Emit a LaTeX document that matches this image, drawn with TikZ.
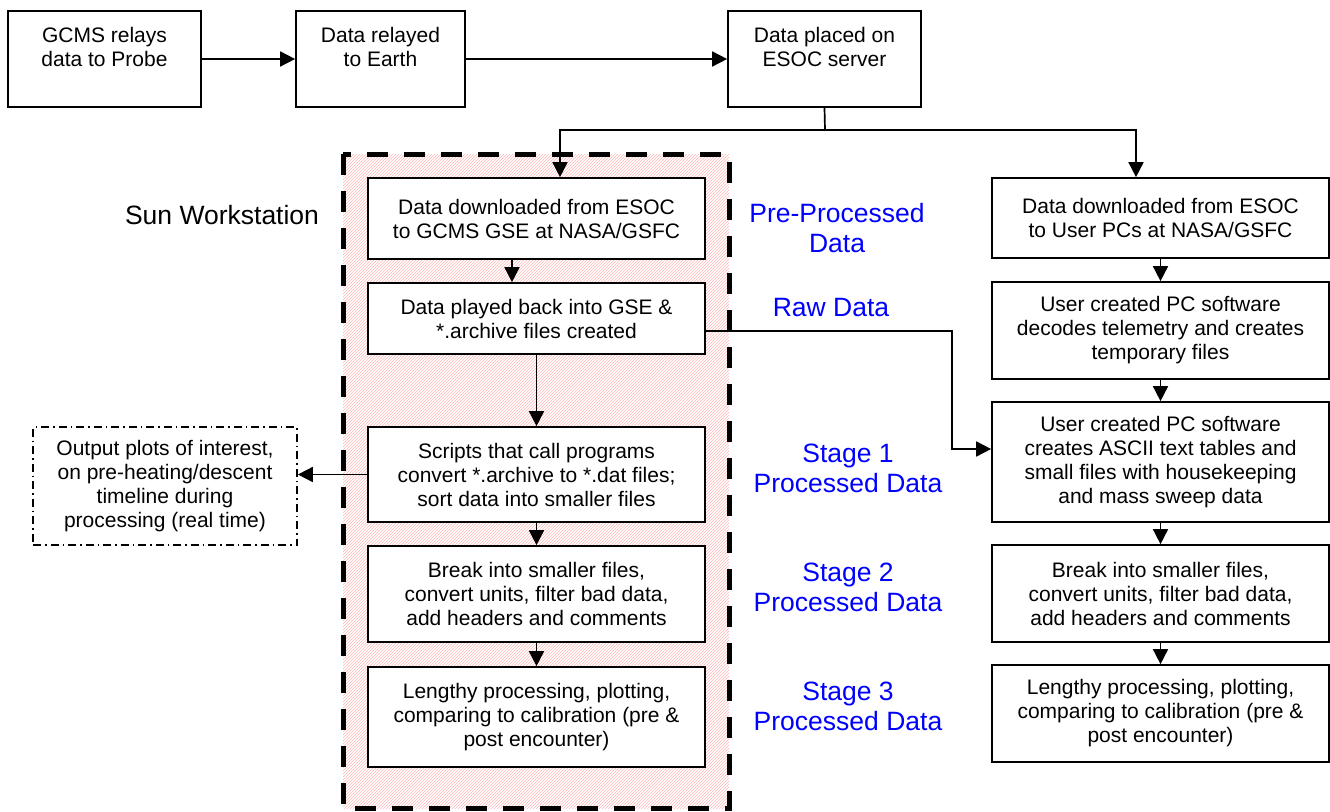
\documentclass[tikz,border=0pt]{standalone}
\usepackage{fontspec}
\setmainfont{Liberation Sans}
\usetikzlibrary{arrows.meta,patterns}

\begin{document}
\begin{tikzpicture}[x=1pt,y=-1pt,>={Triangle[length=15pt,width=15pt]},line join=miter,
  flowbox/.style={draw,line width=1.7pt,fill=white,align=center,inner sep=0pt,font=\fontsize{21}{24}\selectfont},
  plotbox/.style={flowbox,dash pattern=on 8pt off 4pt on 1.5pt off 4pt},
  stagelabel/.style={text=blue,align=center,font=\fontsize{26.5}{30}\selectfont},
  link/.style={->,line width=1.7pt}]
\useasboundingbox (0,0) rectangle (1330,811);
% Sun workstation region
\path[pattern=north east lines,pattern color=red!28] (343,154) rectangle (729,808);
\draw[line width=5pt,dash pattern=on 21pt off 16pt] (343,154) rectangle (729,808);
\node[font=\fontsize{26.5}{30}\selectfont] (sunws) at (222,215) {Sun Workstation};
% top row
\node[flowbox,minimum width=193pt,minimum height=96pt] (probe) at (104.5,59) {GCMS relays\\data to Probe\\\mbox{}};
\node[flowbox,minimum width=169pt,minimum height=96pt] (earth) at (380.5,59) {Data relayed\\to Earth\\\mbox{}};
\node[flowbox,minimum width=193pt,minimum height=96pt] (esoc) at (824.5,59) {Data placed on\\ESOC server\\\mbox{}};
% left column
\node[flowbox,minimum width=337pt,minimum height=81pt] (gse) at (536.5,218.5) {Data downloaded from ESOC\\to GCMS GSE at NASA/GSFC};
\node[flowbox,minimum width=337pt,minimum height=71pt] (playback) at (536.5,318.5) {Data played back into GSE \&\\*.archive files created};
\node[flowbox,minimum width=337pt,minimum height=95pt] (scripts) at (536.5,474.5) {Scripts that call programs\\convert *.archive to *.dat files;\\sort data into smaller files};
\node[flowbox,minimum width=337pt,minimum height=96pt] (gsebreak) at (536.5,594) {Break into smaller files,\\convert units, filter bad data,\\add headers and comments};
\node[flowbox,minimum width=337pt,minimum height=100pt] (gselong) at (536.5,717) {Lengthy processing, plotting,\\comparing to calibration (pre \&\\post encounter)};
\node[plotbox,minimum width=264pt,minimum height=118pt] (plots) at (165,486) {Output plots of interest,\\on pre-heating/descent\\timeline during\\processing (real time)};
% right column
\node[flowbox,minimum width=337pt,minimum height=80pt] (pcdl) at (1160.5,218) {Data downloaded from ESOC\\to User PCs at NASA/GSFC};
\node[flowbox,minimum width=337pt,minimum height=97pt] (pcdecode) at (1160.5,330.5) {User created PC software\\decodes telemetry and creates\\temporary files};
\node[flowbox,minimum width=337pt,minimum height=120pt] (pcascii) at (1160.5,462) {User created PC software\\creates ASCII text tables and\\small files with housekeeping\\and mass sweep data};
\node[flowbox,minimum width=337pt,minimum height=97pt] (pcbreak) at (1160.5,593.5) {Break into smaller files,\\convert units, filter bad data,\\add headers and comments};
\node[flowbox,minimum width=337pt,minimum height=97pt] (pclong) at (1160.5,713.5) {Lengthy processing, plotting,\\comparing to calibration (pre \&\\post encounter)};
% data stage labels
\node[stagelabel] (preproc) at (837,228) {Pre-Processed\\Data};
\node[stagelabel] (rawlbl) at (831,308) {Raw Data};
\node[stagelabel] (stage1) at (848,468) {Stage 1\\Processed Data};
\node[stagelabel] (stage2) at (848,587) {Stage 2\\Processed Data};
\node[stagelabel] (stage3) at (848,706) {Stage 3\\Processed Data};
% connectors
\coordinate (split) at (825,130);
\coordinate (rawturn) at (952,0);
\draw[link] (probe) -- (earth);
\draw[link] (earth) -- (esoc);
\draw[line width=1.7pt] (esoc.south) -- (split);
\draw[link] (split) -| ([xshift=23.5pt]gse.north);
\draw[link] (split) -| ([xshift=-24.5pt]pcdl.north);
\draw[link] ([xshift=-24.5pt]gse.south) -- ([xshift=-24.5pt]gse.south |- playback.north);
\draw[link] (playback) -- (scripts);
\draw[link] (scripts) -- (gsebreak);
\draw[link] (gsebreak) -- (gselong);
\draw[link] (scripts.west) -- (scripts.west -| plots.east);
\draw[link] ([yshift=-12.5pt]playback.east) -- ([yshift=-12.5pt]playback.east -| rawturn) |- ([yshift=13pt]pcascii.west);
\draw[link] (pcdl) -- (pcdecode);
\draw[link] (pcdecode) -- (pcascii);
\draw[link] (pcascii) -- (pcbreak);
\draw[link] (pcbreak) -- (pclong);
\end{tikzpicture}
\end{document}
